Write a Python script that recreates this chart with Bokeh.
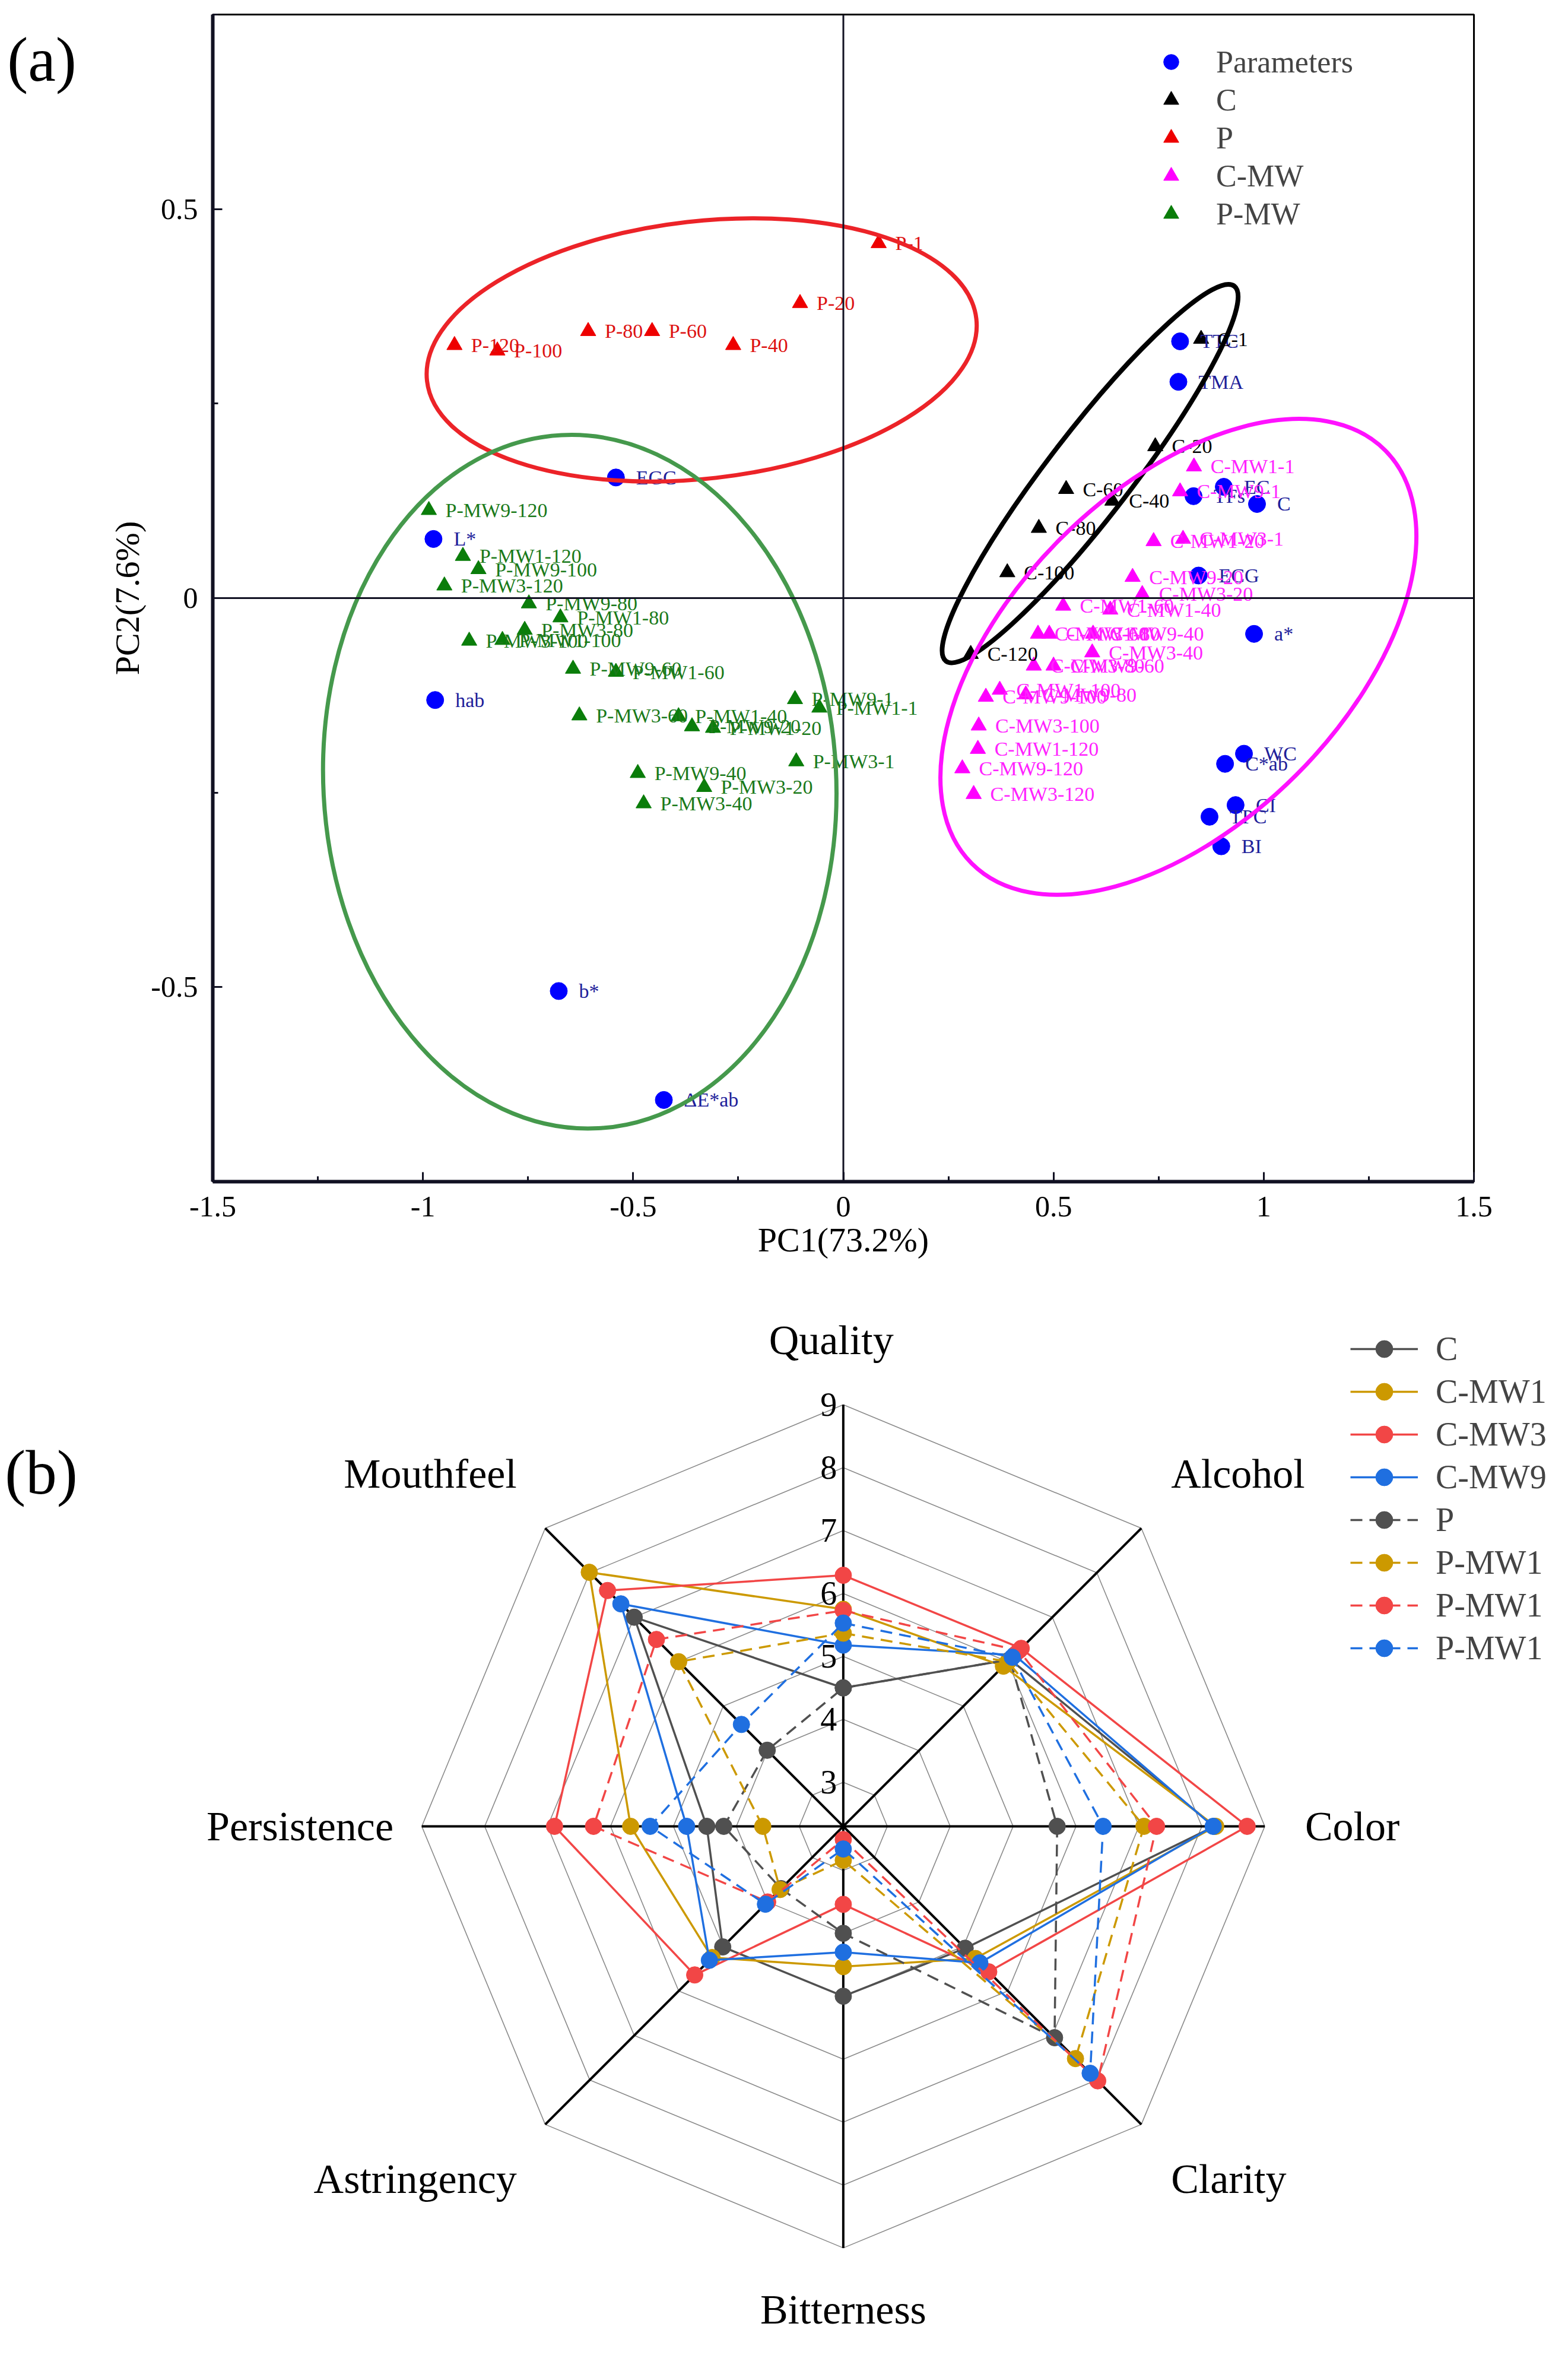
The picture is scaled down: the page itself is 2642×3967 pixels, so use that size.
import math
from bokeh.plotting import figure
from bokeh.models import (Span, Legend, LegendItem, SingleIntervalTicker,
                          CustomJSTickFormatter, Range1d)
from bokeh.layouts import column, row
from bokeh.embed import file_html
from bokeh.resources import INLINE
from bokeh.core.properties import value

FONT = "Liberation Serif"

# ---------------- Panel (a) data: PCA scores / loadings ----------------
param_names = ["EGC", "L*", "hab", "b*", "\u0394E*ab", "TTC", "TMA", "TFs", "EC", "C",
               "ECG", "a*", "WC", "C*ab", "CI", "TPC", "BI"]
param_pc1 = [-0.541, -0.975, -0.971, -0.677, -0.427, 0.801, 0.797, 0.833, 0.905, 0.984,
             0.845, 0.977, 0.953, 0.908, 0.933, 0.871, 0.899]
param_pc2 = [0.155, 0.076, -0.131, -0.505, -0.645, 0.330, 0.278, 0.131, 0.143, 0.121,
             0.029, -0.046, -0.200, -0.213, -0.266, -0.281, -0.319]

c_names = ["C-1", "C-20", "C-40", "C-60", "C-80", "C-100", "C-120"]
c_pc1 = [0.851, 0.742, 0.640, 0.530, 0.465, 0.390, 0.303]
c_pc2 = [0.333, 0.195, 0.125, 0.140, 0.090, 0.033, -0.072]

p_names = ["P-1", "P-20", "P-40", "P-60", "P-80", "P-100", "P-120"]
p_pc1 = [0.084, -0.103, -0.262, -0.455, -0.607, -0.823, -0.925]
p_pc2 = [0.456, 0.379, 0.325, 0.343, 0.343, 0.318, 0.325]

cmw_names = ["C-MW1-1", "C-MW9-1", "C-MW3-1", "C-MW1-20", "C-MW9-20", "C-MW3-20",
             "C-MW1-40", "C-MW1-60", "C-MW9-40", "C-MW3-60", "C-MW1-80", "C-MW3-40",
             "C-MW3-80", "C-MW9-60", "C-MW9-100", "C-MW1-100", "C-MW9-80", "C-MW3-100",
             "C-MW1-120", "C-MW9-120", "C-MW3-120"]
cmw_pc1 = [0.834, 0.801, 0.808, 0.738, 0.688, 0.711, 0.635, 0.523, 0.594, 0.463, 0.490,
           0.592, 0.453, 0.500, 0.339, 0.372, 0.434, 0.322, 0.320, 0.283, 0.310]
cmw_pc2 = [0.169, 0.137, 0.076, 0.073, 0.027, 0.005, -0.015, -0.010, -0.046, -0.046,
           -0.046, -0.070, -0.087, -0.087, -0.127, -0.118, -0.124, -0.164, -0.194,
           -0.219, -0.252]

pmw_names = ["P-MW9-120", "P-MW1-120", "P-MW9-100", "P-MW3-120", "P-MW9-80", "P-MW1-80",
             "P-MW3-80", "P-MW3-100", "P-MW1-100", "P-MW9-60", "P-MW1-60", "P-MW3-60",
             "P-MW1-40", "P-MW9-20", "P-MW1-20", "P-MW9-1", "P-MW1-1", "P-MW3-1",
             "P-MW9-40", "P-MW3-20", "P-MW3-40"]
pmw_pc1 = [-0.986, -0.905, -0.868, -0.949, -0.748, -0.673, -0.758, -0.890, -0.811, -0.643,
           -0.541, -0.628, -0.392, -0.360, -0.310, -0.115, -0.057, -0.112, -0.489, -0.331,
           -0.475]
pmw_pc2 = [0.113, 0.054, 0.037, 0.016, -0.007, -0.025, -0.041, -0.055, -0.054, -0.091,
           -0.095, -0.151, -0.152, -0.165, -0.167, -0.130, -0.141, -0.210, -0.225, -0.243,
           -0.264]

# ---------------- Panel (b) data: sensory radar ----------------
attributes = ["Quality", "Alcohol", "Color", "Clarity", "Bitterness", "Astringency",
              "Persistence", "Mouthfeel"]
radar_ticks = [3, 4, 5, 6, 7, 8, 9]
series_names = ["C", "C-MW1", "C-MW3", "C-MW9", "P", "P-MW1", "P-MW1", "P-MW1"]
s_C     = [4.50, 6.05, 8.20, 5.04, 5.00, 5.01, 4.47, 7.00]
s_CMW1  = [5.75, 5.90, 8.22, 5.27, 4.53, 5.25, 5.68, 8.01]
s_CMW3  = [6.29, 6.30, 8.72, 5.57, 3.54, 5.64, 6.89, 7.60]
s_CMW9  = [5.18, 6.15, 8.18, 5.37, 4.30, 5.31, 4.79, 7.30]
s_P     = [4.50, 6.05, 5.70, 7.05, 4.00, 3.70, 4.20, 4.01]
s_PMW1  = [5.37, 6.00, 7.08, 7.52, 2.84, 3.72, 3.58, 6.00]
s_PMW3  = [5.73, 6.25, 7.28, 8.02, 2.51, 4.00, 6.27, 6.50]
s_PMW9  = [5.53, 6.10, 6.43, 7.85, 2.66, 4.05, 5.37, 4.59]
series_values = [s_C, s_CMW1, s_CMW3, s_CMW9, s_P, s_PMW1, s_PMW3, s_PMW9]


def no_align(f):
    if "frame_align" in f.properties():
        f.frame_align = False


# ======================= Panel (a) =======================
TOP_A, BOT_A = 24, 160
la = figure(width=150, height=2150, x_range=Range1d(0, 150), y_range=Range1d(-0.75, 0.75),
            output_backend="svg", toolbar_location=None, min_border_left=0,
            min_border_right=0, min_border_top=TOP_A, min_border_bottom=BOT_A)
la.xaxis.visible = False
la.yaxis.visible = False
la.xgrid.visible = False
la.ygrid.visible = False
la.outline_line_color = None
la.text([70], [0.692], text=["(a)"], text_align="center", text_baseline="middle",
        text_font=value(FONT), text_font_size="105px", text_color="black")

pa = figure(width=2476, height=2150, x_range=Range1d(-1.5, 1.5), y_range=Range1d(-0.75, 0.75),
            output_backend="svg", toolbar_location=None,
            min_border_left=208, min_border_right=143, min_border_top=TOP_A,
            min_border_bottom=BOT_A)
pa.xgrid.visible = False
pa.ygrid.visible = False
pa.outline_line_color = "black"
pa.outline_line_width = 3

fmt = CustomJSTickFormatter(code="return String(Math.round(tick*100)/100)")
for ax, lab in ((pa.xaxis[0], "PC1(73.2%)"), (pa.yaxis[0], "PC2(7.6%)")):
    ax.ticker = SingleIntervalTicker(interval=0.5, num_minor_ticks=2)
    ax.formatter = fmt
    ax.axis_label = lab
    ax.axis_label_text_font = FONT
    ax.axis_label_text_font_style = "normal"
    ax.axis_label_text_font_size = "58px"
    ax.axis_label_text_color = "black"
    ax.major_label_text_font = FONT
    ax.major_label_text_font_size = "50px"
    ax.major_label_text_color = "black"
    ax.major_label_standoff = 25
    ax.axis_line_width = 6
    ax.axis_line_color = "#111122"
    ax.major_tick_in = 16
    ax.major_tick_out = 0
    ax.minor_tick_in = 9
    ax.minor_tick_out = 0
    ax.major_tick_line_width = 3
    ax.minor_tick_line_width = 3
    ax.major_tick_line_color = "#111122"
    ax.minor_tick_line_color = "#111122"
pa.xaxis.axis_label_standoff = 4
pa.yaxis.axis_label_standoff = 4

pa.add_layout(Span(location=0, dimension="height", line_color="#111122", line_width=3))
pa.add_layout(Span(location=0, dimension="width", line_color="#111122", line_width=3))

r_par = pa.scatter(param_pc1, param_pc2, marker="circle", size=29, color="#0000ff")
r_c = pa.scatter(c_pc1, c_pc2, marker="triangle", size=26, color="black")
r_p = pa.scatter(p_pc1, p_pc2, marker="triangle", size=26, color="#ee0000")
r_cmw = pa.scatter(cmw_pc1, cmw_pc2, marker="triangle", size=26, color="#ff00ff")
r_pmw = pa.scatter(pmw_pc1, pmw_pc2, marker="triangle", size=26, color="#0a7d0a")


def labels(xs, ys, names, col, off):
    pa.text(xs, ys, text=names, x_offset=off, text_baseline="middle", text_align="left",
            text_font=value(FONT), text_font_size="34px", text_color=col)


labels(param_pc1, param_pc2, param_names, "#20209a", 34)
labels(c_pc1, c_pc2, c_names, "black", 28)
labels(p_pc1, p_pc2, p_names, "#dd1111", 28)
labels(cmw_pc1, cmw_pc2, cmw_names, "#ff22ff", 28)
labels(pmw_pc1, pmw_pc2, pmw_names, "#1a7a1a", 28)

# group ellipses (center, width in x units, height in y units, screen angle)
pa.ellipse(x=[-0.337], y=[0.319], width=[1.315], height=[0.331], angle=[0.1126],
           fill_color=None, line_color="#ec2328", line_width=7)
pa.ellipse(x=[-0.627], y=[-0.236], width=[1.220], height=[0.892], angle=[0.053],
           fill_color=None, line_color="#45994c", line_width=7)
pa.ellipse(x=[0.587], y=[0.160], width=[1.125], height=[0.108], angle=[0.915],
           fill_color=None, line_color="black", line_width=8)
pa.ellipse(x=[0.797], y=[-0.0755], width=[1.390], height=[0.429], angle=[0.785],
           fill_color=None, line_color="#ff11ff", line_width=7)

leg_a = Legend(items=[LegendItem(label="Parameters", renderers=[r_par]),
                      LegendItem(label="C", renderers=[r_c]),
                      LegendItem(label="P", renderers=[r_p]),
                      LegendItem(label="C-MW", renderers=[r_cmw]),
                      LegendItem(label="P-MW", renderers=[r_pmw])],
               location=(1583, 1598), glyph_width=64, glyph_height=64, spacing=0,
               padding=0, margin=0, label_standoff=44, label_text_font=FONT,
               label_text_font_size="52px", border_line_color=None,
               background_fill_alpha=0)
pa.add_layout(leg_a)

# ======================= Panel (b) =======================
R0 = 2.3
RMAX = 9
angles = [math.radians(a) for a in (90, 45, 0, -45, -90, -135, 180, 135)]
pb = figure(width=2626, height=1800, x_range=Range1d(-13.40, 11.374),
            y_range=Range1d(-8.246, 8.736), output_backend="svg", toolbar_location=None,
            min_border_left=0, min_border_right=0, min_border_top=0, min_border_bottom=0)
pb.xaxis.visible = False
pb.yaxis.visible = False
pb.xgrid.visible = False
pb.ygrid.visible = False
pb.outline_line_color = None

for t in radar_ticks:
    rr = t - R0
    xs = [rr * math.cos(a) for a in angles] + [rr * math.cos(angles[0])]
    ys = [rr * math.sin(a) for a in angles] + [rr * math.sin(angles[0])]
    pb.line(xs, ys, line_color="#8a8a8a", line_width=1.6)
rm = RMAX - R0
for a in angles[:4]:
    pb.line([rm * math.cos(a), -rm * math.cos(a)], [rm * math.sin(a), -rm * math.sin(a)],
            line_color="black", line_width=4)

pb.text([-0.1] * len(radar_ticks), [t - R0 for t in radar_ticks],
        text=[str(t) for t in radar_ticks], text_align="right", text_baseline="middle",
        text_font=value(FONT), text_font_size="56px", text_color="black")

lab_pos = [(-0.19, 7.73, "center"), (5.21, 5.60, "left"), (7.34, 0.0, "left"),
           (5.21, -5.60, "left"), (0.0, -7.68, "center"), (-5.19, -5.60, "right"),
           (-7.15, 0.0, "right"), (-5.19, 5.60, "right")]
for (lx, ly, al), name in zip(lab_pos, attributes):
    pb.text([lx], [ly], text=[name], text_align=al, text_baseline="middle",
            text_font=value(FONT), text_font_size="70px", text_color="black")

pb.text([-12.75], [5.62], text=["(b)"], text_align="center", text_baseline="middle",
        text_font=value(FONT), text_font_size="105px", text_color="black")

colors = ["#505050", "#cc9900", "#f24646", "#1f6fe0"] * 2
dashes = ["solid"] * 4 + ["20 12"] * 4
items = []
for name, vals, col, dsh in zip(series_names, series_values, colors, dashes):
    xs = [(v - R0) * math.cos(a) for v, a in zip(vals, angles)]
    ys = [(v - R0) * math.sin(a) for v, a in zip(vals, angles)]
    rl = pb.line(xs + [xs[0]], ys + [ys[0]], line_color=col, line_width=3.5, line_dash=dsh)
    rs = pb.scatter(xs, ys, marker="circle", size=28, color=col)
    items.append(LegendItem(label=name, renderers=[rl, rs]))

leg_b = Legend(items=items, location=(2275, 1138), glyph_width=114, glyph_height=72,
               spacing=0, padding=0, margin=0, label_standoff=30, label_text_font=FONT,
               label_text_font_size="56px", border_line_color=None, background_fill_alpha=0)
pb.add_layout(leg_b)

for f in (la, pa, pb):
    no_align(f)

layout = column(row(la, pa, spacing=0), pb, spacing=0)
open("out.html", "w").write(file_html(layout, INLINE))
